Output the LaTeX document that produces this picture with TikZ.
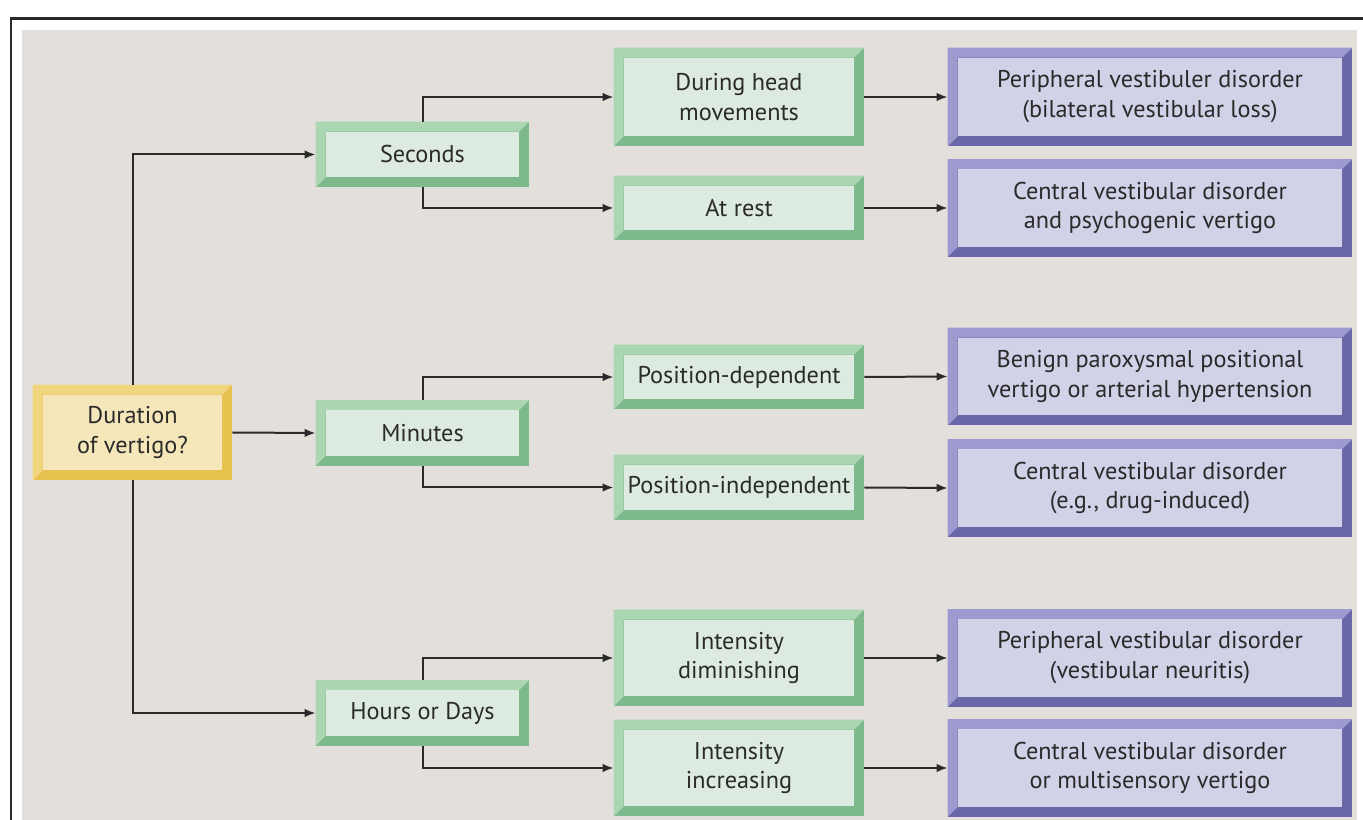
\documentclass[tikz,border=0pt]{standalone}
\usepackage{fontspec}
\setmainfont{PT Sans}
\usetikzlibrary{arrows.meta,backgrounds}
\definecolor{bggray}{HTML}{E3E0DC}
\definecolor{linegray}{HTML}{2A2A2A}
\definecolor{grdark}{HTML}{7DB98A}
\definecolor{grlight}{HTML}{ABD6B2}
\definecolor{grin}{HTML}{DDEADF}
\definecolor{yedark}{HTML}{E8C24E}
\definecolor{yelight}{HTML}{F1D680}
\definecolor{yein}{HTML}{F6E7BB}
\definecolor{pudark}{HTML}{6A68A8}
\definecolor{pulight}{HTML}{9C9ACE}
\definecolor{puin}{HTML}{D1D1E7}
\tikzset{
  box/.style={inner sep=0pt, align=center, text=linegray, font=\fontsize{13.8}{17}\selectfont},
  askbox/.style={box, minimum width=3.98cm, minimum height=1.9cm},
  timebox/.style={box, minimum width=4.26cm, minimum height=1.3cm},
  featbox/.style={box, minimum width=5cm},
  dxbox/.style={box, minimum width=8.08cm, minimum height=1.94cm},
  arr/.style={draw=linegray, line width=0.04cm, -{Latex[length=0.22cm,width=0.17cm]}},
}
% bevelled frame behind a node: node, dark, light, inner
\newcommand{\bevel}[4]{
  \fill[#2] (#1.south west) rectangle (#1.north east);
  \fill[#3] (#1.south west) -- (#1.north west) -- (#1.north east)
    -- ([xshift=-0.2cm,yshift=-0.2cm]#1.north east) -- ([xshift=0.2cm,yshift=-0.2cm]#1.north west)
    -- ([xshift=0.2cm,yshift=0.2cm]#1.south west) -- cycle;
  \fill[#4] ([xshift=0.2cm,yshift=0.2cm]#1.south west) rectangle ([xshift=-0.2cm,yshift=-0.2cm]#1.north east);
}
\begin{document}
\begin{tikzpicture}[x=0.02cm, y=-0.02cm]
  \useasboundingbox (0,0) rectangle (1363,820);
  % question
  \node[askbox] (dur) at (132.5,432.5) {Duration\\of vertigo?};
  % duration
  \node[timebox] (sec) at (422.5,154.5) {Seconds};
  \node[timebox] (min) at (422.5,433) {Minutes};
  \node[timebox] (hrs) at (422.5,713) {Hours or Days};
  % features
  \node[featbox, minimum height=1.96cm] (head) at (739,97) {During head\\movements};
  \node[featbox, minimum height=1.28cm] (rest) at (739,208) {At rest};
  \node[featbox, minimum height=1.28cm] (pdep) at (739,377) {Position-dependent};
  \node[featbox, minimum height=1.3cm] (pind) at (739,487.5) {Position-independent};
  \node[featbox, minimum height=1.92cm] (dim) at (739,658) {Intensity\\diminishing};
  \node[featbox, minimum height=1.92cm] (inc) at (739,768) {Intensity\\increasing};
  % diagnoses
  \node[dxbox, minimum height=1.96cm] (dx1) at (1150,97) {Peripheral vestibuler disorder\\(bilateral vestibular loss)};
  \node[dxbox] (dx2) at (1150,208) {Central vestibular disorder\\and psychogenic vertigo};
  \node[dxbox] (dx3) at (1150,376.5) {Benign paroxysmal positional\\vertigo or arterial hypertension};
  \node[dxbox] (dx4) at (1150,488) {Central vestibular disorder\\(e.g., drug-induced)};
  \node[dxbox] (dx5) at (1150,658) {Peripheral vestibular disorder\\(vestibular neuritis)};
  \node[dxbox] (dx6) at (1150,768) {Central vestibular disorder\\or multisensory vertigo};
  \begin{scope}[on background layer]
    \fill[white] (0,0) rectangle (1363,820);
    \fill[bggray] (22,30) rectangle (1357,820);
    \draw[line width=0.06cm, linegray] (1363,19) -- (11,19) -- (11,820);
    \bevel{dur}{yedark}{yelight}{yein}
    \foreach \n in {sec,min,hrs,head,rest,pdep,pind,dim,inc}
      {\bevel{\n}{grdark}{grlight}{grin}}
    \foreach \n in {dx1,dx2,dx3,dx4,dx5,dx6}
      {\bevel{\n}{pudark}{pulight}{puin}}
  \end{scope}
  % connectors
  \draw[arr] (dur.north) |- (sec.west);
  \draw[arr] (dur.east) -- (min.west);
  \draw[arr] (dur.south) |- (hrs.west);
  \draw[arr] (sec.north) |- (head.west);
  \draw[arr] (sec.south) |- (rest.west);
  \draw[arr] (min.north) |- (pdep.west);
  \draw[arr] (min.south) |- (pind.west);
  \draw[arr] (hrs.north) |- (dim.west);
  \draw[arr] (hrs.south) |- (inc.west);
  \foreach \a/\b in {head/dx1,rest/dx2,pdep/dx3,pind/dx4,dim/dx5,inc/dx6}
    \draw[arr] (\a.east) -- (\b.west);
\end{tikzpicture}
\end{document}
